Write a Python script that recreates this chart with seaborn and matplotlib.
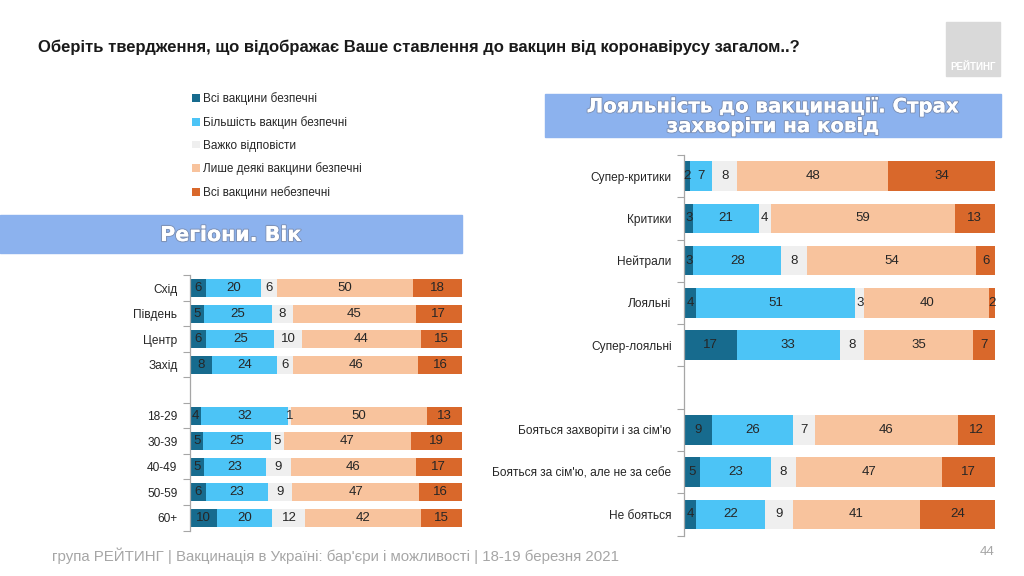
import numpy as np
import pandas as pd
import matplotlib
matplotlib.use("Agg")
import matplotlib.pyplot as plt
import seaborn as sns
from matplotlib.patches import Rectangle, Patch
import matplotlib.patheffects as pe

sns.set_theme(style="white")
plt.rcParams["font.family"] = ["Liberation Sans Narrow", "Liberation Sans", "DejaVu Sans"]

# ---------------- data ----------------
series = ["Всі вакцини безпечні", "Більшість вакцин безпечні", "Важко відповісти",
          "Лише деякі вакцини безпечні", "Всі вакцини небезпечні"]
colors = ["#176b8e", "#4cc4f6", "#efefef", "#f8c39d", "#d9682b"]

left_cats = ["Схід", "Південь", "Центр", "Захід", " ", "18-29", "30-39", "40-49", "50-59", "60+"]
left_all_safe = [6, 5, 6, 8, 0, 4, 5, 5, 6, 10]
left_most_safe = [20, 25, 25, 24, 0, 32, 25, 23, 23, 20]
left_hard = [6, 8, 10, 6, 0, 1, 5, 9, 9, 12]
left_some_safe = [50, 45, 44, 46, 0, 50, 47, 46, 47, 42]
left_none_safe = [18, 17, 15, 16, 0, 13, 19, 17, 16, 15]

right_cats = ["Супер-критики", "Критики", "Нейтрали", "Лояльні", "Супер-лояльні", "  ",
              "Бояться захворіти і за сім'ю", "Бояться за сім'ю, але не за себе", "Не бояться"]
right_all_safe = [2, 3, 3, 4, 17, 0, 9, 5, 4]
right_most_safe = [7, 21, 28, 51, 33, 0, 26, 23, 22]
right_hard = [8, 4, 8, 3, 8, 0, 7, 8, 9]
right_some_safe = [48, 59, 54, 40, 35, 0, 46, 47, 41]
right_none_safe = [34, 13, 6, 2, 7, 0, 12, 17, 24]

title = "Оберіть твердження, що відображає Ваше ставлення до вакцин від коронавірусу загалом..?"
left_banner = "Регіони. Вік"
right_banner = "Лояльність до вакцинації. Страх\nзахворіти на ковід"
footer = "група РЕЙТИНГ | Вакцинація в Україні: бар'єри і можливості | 18-19 березня 2021"
page = "44"

W_PX, H_PX = 1024, 576
fig = plt.figure(figsize=(W_PX / 100, H_PX / 100), dpi=100)
fig.patch.set_facecolor("white")


def fr(x0, y0, x1, y1):
    """pixel box -> figure fraction rect"""
    return [x0 / W_PX, 1 - y1 / H_PX, (x1 - x0) / W_PX, (y1 - y0) / H_PX]


def draw(ax, cats, vals):
    M = np.array(vals, dtype=float)
    tot = M.sum(axis=0)
    tot[tot == 0] = 1
    Wn = M / tot * 100
    cum = Wn.cumsum(axis=0)
    n = len(cats)
    for k in range(len(series) - 1, -1, -1):
        df = pd.DataFrame({"cat": cats, "val": cum[k]})
        sns.barplot(data=df, x="val", y="cat", order=cats, orient="h", color=colors[k],
                    width=0.7, errorbar=None, saturation=1, linewidth=0, ax=ax)
    for k in range(len(series)):
        for i in range(n):
            if M[k, i] > 0:
                ax.text(cum[k, i] - Wn[k, i] / 2, i, f"{int(M[k, i])}", ha="center", va="center",
                        fontsize=9.5, color="#262626")
    ax.set_xlim(0, 100)
    ax.set_ylim(n - 0.5, -0.5)
    ax.set_xlabel("")
    ax.set_ylabel("")
    ax.set_xticks([])
    for s in ["top", "right", "bottom"]:
        ax.spines[s].set_visible(False)
    ax.spines["left"].set_color("#a6a6a6")
    ax.spines["left"].set_linewidth(0.9)
    ax.set_yticks(np.arange(-0.5, n, 1), minor=True)
    ax.tick_params(axis="y", which="major", length=0, labelsize=8.6, pad=9, colors="#262626")
    ax.tick_params(axis="y", which="minor", left=True, length=5, width=0.8, color="#a6a6a6")
    ax.set_facecolor("none")


axL = fig.add_axes(fr(190, 275.5, 462, 530.5))
draw(axL, left_cats, [left_all_safe, left_most_safe, left_hard, left_some_safe, left_none_safe])

axR = fig.add_axes(fr(684, 155, 995, 535.5))
draw(axR, right_cats, [right_all_safe, right_most_safe, right_hard, right_some_safe, right_none_safe])

# banners
banner_color = "#8cb2ee"
fig.add_artist(Rectangle((0, 1 - 253 / H_PX), 462 / W_PX, 38 / H_PX, transform=fig.transFigure,
                         color=banner_color, zorder=0))
fig.add_artist(Rectangle((545 / W_PX, 1 - 137 / H_PX), 456 / W_PX, 43 / H_PX, transform=fig.transFigure,
                         color=banner_color, zorder=0))
effects = [pe.withStroke(linewidth=1.6, foreground="#7f93b8"), pe.Normal()]
fig.text(231 / W_PX, 1 - 235 / H_PX, left_banner, ha="center", va="center", fontsize=14.8,
         fontweight="heavy", color="white", family=["DejaVu Sans"], path_effects=effects)
fig.text(773 / W_PX, 1 - 116.5 / H_PX, right_banner, ha="center", va="center", fontsize=14.2,
         fontweight="heavy", color="white", family=["DejaVu Sans"], linespacing=1.05,
         path_effects=effects)

# title
fig.text(38 / W_PX, 1 - 47 / H_PX, title, ha="left", va="center", fontsize=12.0, fontweight="bold",
         color="#1a1a1a", family=["Liberation Sans", "DejaVu Sans"])

# logo
fig.add_artist(Rectangle((946 / W_PX, 1 - 76 / H_PX), 54 / W_PX, 54 / H_PX, transform=fig.transFigure,
                         color="#d9d9d9", zorder=0))
fig.text(973 / W_PX, 1 - 67 / H_PX, "РЕЙТИНГ", ha="center", va="center", fontsize=7, fontweight="bold",
         color="white", family=["Liberation Sans", "DejaVu Sans"])

# legend
handles = [Patch(facecolor=c, edgecolor="none") for c in colors]
fig.legend(handles, series, loc="upper left", bbox_to_anchor=(192 / W_PX, 1 - 92 / H_PX),
           frameon=False, fontsize=8.5, handlelength=0.65, handleheight=0.65, handletextpad=0.3,
           labelspacing=0.92, borderpad=0, borderaxespad=0)

# footer
fig.text(52 / W_PX, 1 - 556 / H_PX, footer, ha="left", va="center", fontsize=10.8, color="#a6a6a6",
         family=["Liberation Sans", "DejaVu Sans"])
fig.text(994 / W_PX, 1 - 552 / H_PX, page, ha="right", va="center", fontsize=9.5, color="#a6a6a6",
         family=["Liberation Sans", "DejaVu Sans"])

fig.savefig("out.png", dpi=100)
